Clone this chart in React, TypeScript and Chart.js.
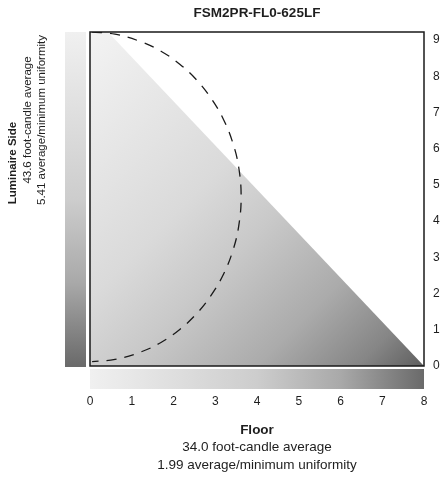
import React, { useEffect, useRef } from 'react';
import { Chart, registerables } from 'chart.js';

Chart.register(...registerables);

const chartTitle = 'FSM2PR-FL0-625LF';
const sideLines = ['Luminaire Side', '43.6 foot-candle average', '5.41 average/minimum uniformity'];
const floorLines = ['Floor', '34.0 foot-candle average', '1.99 average/minimum uniformity'];

const xMin = 0;
const xMax = 8;
const yMin = 0;
const yMax = 9.22;
const tickStep = 1;

// shaded (lit) triangular region, light to dark
const shadeX = [0, 0.43, 8];
const shadeY = [9.22, 9.22, 0];

// dashed beam outline
const arcX = [0.05, 0.6, 1.2, 1.7, 2.15, 2.55, 2.9, 3.2, 3.42, 3.56, 3.62, 3.56, 3.42, 3.2, 2.9, 2.55, 2.15, 1.7, 1.2, 0.6, 0.05];
const arcY = [9.22, 9.16, 8.96, 8.69, 8.33, 7.9, 7.39, 6.8, 6.16, 5.5, 4.67, 3.85, 3.18, 2.54, 1.95, 1.44, 1.01, 0.65, 0.38, 0.18, 0.12];

const FONT = "'Liberation Sans', Arial, sans-serif";
const TEXT = '#1e1e1e';

const grayStops: [number, string][] = [
  [0, '#f0f0f0'],
  [0.5, '#cdcdcd'],
  [0.75, '#a9a9a9'],
  [1, '#6a6a6a'],
];
const shadeStops: [number, string][] = [
  [0, '#f3f3f3'],
  [0.4, '#dadada'],
  [0.55, '#c9c9c9'],
  [0.75, '#ababab'],
  [0.9, '#868686'],
  [1, '#5e5e5e'],
];

const decorPlugin = {
  id: 'decor',
  beforeDatasetsDraw(chart: any) {
    const { ctx, chartArea, scales } = chart;
    const x0 = scales.x.getPixelForValue(xMin);
    const x1 = scales.x.getPixelForValue(xMax);
    const yTop = chartArea.top;
    const yBot = chartArea.bottom;
    ctx.save();
    const gl = ctx.createLinearGradient(0, yTop, 0, yBot);
    grayStops.forEach(([s, c]) => gl.addColorStop(s, c));
    ctx.fillStyle = gl;
    ctx.fillRect(x0 - 25, yTop, 21, yBot - yTop + 1);
    const gb = ctx.createLinearGradient(x0, 0, x1, 0);
    grayStops.forEach(([s, c]) => gb.addColorStop(s, c));
    ctx.fillStyle = gb;
    ctx.fillRect(x0, yBot + 3, x1 - x0, 20);
    ctx.restore();
  },
  afterDatasetsDraw(chart: any) {
    const { ctx, chartArea } = chart;
    ctx.save();
    ctx.strokeStyle = '#1a1a1a';
    ctx.lineWidth = 1.5;
    ctx.strokeRect(chartArea.left, chartArea.top, chartArea.right - chartArea.left, chartArea.bottom - chartArea.top);
    ctx.restore();
  },
  afterDraw(chart: any) {
    const { ctx, chartArea } = chart;
    const cx = (chartArea.left + chartArea.right) / 2;
    ctx.save();
    ctx.fillStyle = TEXT;
    ctx.textAlign = 'center';
    ctx.textBaseline = 'middle';
    ctx.font = `bold 13.5px ${FONT}`;
    ctx.fillText(chartTitle, cx, 13);

    const fy = [430, 447, 465];
    floorLines.forEach((t, i) => {
      ctx.font = i === 0 ? `bold 13.5px ${FONT}` : `13.5px ${FONT}`;
      ctx.fillText(t, cx, fy[i]);
    });

    const sx = [13, 28, 42];
    const sy = [163, 120, 120];
    sideLines.forEach((t, i) => {
      ctx.save();
      ctx.translate(sx[i], sy[i]);
      ctx.rotate(-Math.PI / 2);
      ctx.font = i === 0 ? `bold 11.5px ${FONT}` : `11.5px ${FONT}`;
      ctx.fillText(t, 0, 0);
      ctx.restore();
    });
    ctx.restore();
  },
};

export default function App() {
  const ref = useRef<HTMLCanvasElement | null>(null);

  useEffect(() => {
    if (!ref.current) return;
    const chart = new Chart(ref.current, {
      type: 'scatter',
      data: {
        datasets: [
          {
            label: 'arc',
            data: arcX.map((x, i) => ({ x, y: arcY[i] })),
            showLine: true,
            borderColor: '#1a1a1a',
            borderWidth: 1.3,
            borderDash: [10, 8],
            pointRadius: 0,
            tension: 0.4,
            fill: false,
            order: 0,
          },
          {
            label: 'shade',
            data: shadeX.map((x, i) => ({ x, y: shadeY[i] })),
            showLine: true,
            borderWidth: 0,
            borderColor: 'rgba(0,0,0,0)',
            pointRadius: 0,
            fill: 'start',
            order: 1,
            backgroundColor: (c: any) => {
              const area = c.chart.chartArea;
              if (!area) return '#cccccc';
              const g = c.chart.ctx.createLinearGradient(area.left, area.top, area.right, area.bottom);
              shadeStops.forEach(([s, col]) => g.addColorStop(s, col));
              return g;
            },
          },
        ],
      },
      options: {
        responsive: false,
        animation: false,
        devicePixelRatio: 1,
        layout: { padding: { left: 90, top: 32, right: 0, bottom: 0 } },
        plugins: {
          legend: { display: false },
          tooltip: { enabled: false },
          title: { display: false },
        },
        scales: {
          x: {
            type: 'linear',
            position: 'bottom',
            min: xMin,
            max: xMax,
            grid: { display: false, drawTicks: false },
            border: { display: false },
            ticks: { stepSize: tickStep, padding: 28, color: TEXT, font: { family: FONT, size: 12 } },
            afterFit: (s: any) => { s.height = 111; s.paddingLeft = 0; s.paddingRight = 0; },
          },
          y: {
            type: 'linear',
            position: 'right',
            min: yMin,
            max: yMax,
            grid: { display: false, drawTicks: false },
            border: { display: false },
            ticks: { stepSize: tickStep, includeBounds: false, padding: 9, color: TEXT, font: { family: FONT, size: 12 } },
            afterFit: (s: any) => { s.width = 16; s.paddingTop = 0; s.paddingBottom = 0; },
          },
        },
      },
      plugins: [decorPlugin],
    } as any);
    return () => chart.destroy();
  }, []);

  return (
    <div style={{ position: 'absolute', left: 0, top: 0, width: 440, height: 477 }}>
      <canvas ref={ref} width={440} height={477} style={{ display: 'block', width: 440, height: 477 }} />
    </div>
  );
}
